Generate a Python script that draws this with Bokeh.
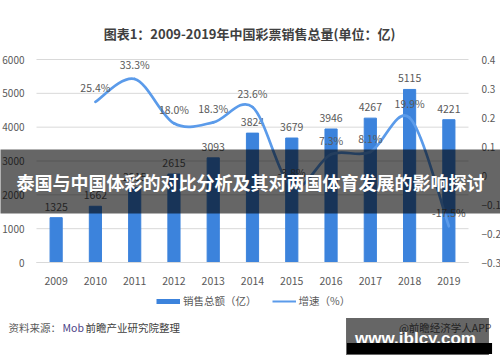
import numpy as np
from bokeh.plotting import figure
from bokeh.models import Range1d, LinearAxis, FixedTicker, Label, Legend, LegendItem
from bokeh.embed import file_html
from bokeh.resources import INLINE
from bokeh.core.properties import value

# ---------------- data ----------------
years = [2009, 2010, 2011, 2012, 2013, 2014, 2015, 2016, 2017, 2018, 2019]
sales = [1325, 1662, 2215, 2615, 3093, 3824, 3679, 3946, 4267, 5115, 4221]
growth_years = [2010, 2011, 2012, 2013, 2014, 2015, 2016, 2017, 2018, 2019]
growth = [25.4, 33.3, 18.0, 18.3, 23.6, -3.8, 7.3, 8.1, 19.9, -17.5]
left_ticks = [0, 1000, 2000, 3000, 4000, 5000, 6000]
right_ticks = [-0.3, -0.2, -0.1, 0, 0.1, 0.2, 0.3, 0.4]
title_text = "图表1：2009-2019年中国彩票销售总量(单位：亿)"
band_text = "泰国与中国体彩的对比分析及其对两国体育发展的影响探讨"
legend_labels = ["销售总额（亿）", "增速（%）"]
source_parts = ["资料来源：", "Mob", "前瞻产业研究院整理"]
credit_text = "@前瞻经济学人APP"
wm_text = "www.jblcy.com"

# ---------------- style ----------------
BAR = "#3c83dc"
LINE = "#5b9bea"
GRID = "#d9d9d9"
TXT = "#595959"
CJK = "Noto Sans CJK SC"
W, H = 500, 362

# chart area in page px: x 36..468, y 59..262
def px_x(px):
    return 2008.5 + (px - 36) * 11.0 / 432.0

def py_y(py):
    return (262 - py) * 6000.0 / 203.0

def py_p(py):
    return 0.4 - (py - 59) * 0.7 / 203.0

p = figure(width=W, height=H, output_backend="svg", toolbar_location=None,
           x_range=Range1d(px_x(0), px_x(W)),
           y_range=Range1d(py_y(H), py_y(0)),
           min_border=0, min_border_left=0, min_border_right=0,
           min_border_top=0, min_border_bottom=0)
p.extra_y_ranges = {"pct": Range1d(py_p(H), py_p(0))}
p.outline_line_color = None
p.background_fill_color = "white"
p.border_fill_color = "white"
p.xgrid.visible = False
p.ygrid.visible = False

def style_axis(ax, standoff, size="10.5px"):
    ax.axis_line_color = None
    ax.major_tick_line_color = None
    ax.minor_tick_line_color = None
    ax.major_label_standoff = standoff
    ax.major_label_text_font = CJK
    ax.major_label_text_font_size = size
    ax.major_label_text_color = TXT

# axes pinned to the chart area (no side-panel space taken)
ya = p.yaxis[0]
ya.ticker = FixedTicker(ticks=left_ticks)
ya.fixed_location = 2008.5
style_axis(ya, 6, "10px")

xa = p.xaxis[0]
xa.ticker = FixedTicker(ticks=years)
xa.fixed_location = 0
xa.bounds = (2008.5, 2019.5)
style_axis(xa, 8)
xa.axis_line_color = GRID

ra = LinearAxis(y_range_name="pct", ticker=FixedTicker(ticks=right_ticks))
ra.fixed_location = 2019.5
style_axis(ra, 7, "10px")
ra.major_label_overrides = {0: "0"}
p.add_layout(ra, "right")

# horizontal grid lines at the left-axis ticks, limited to the chart area
p.segment(x0=[2008.5] * len(left_ticks), x1=[2019.5] * len(left_ticks),
          y0=left_ticks, y1=left_ticks, line_color=GRID, line_width=1)

# bars + labels
p.vbar(x=years, top=sales, width=0.31, color=BAR)
p.text(x=years, y=sales, text=[str(v) for v in sales], y_offset=-11,
       text_align="center", text_baseline="middle", text_color=TXT,
       text_font=value(CJK), text_font_size="10.5px")

# smoothed growth line (Catmull-Rom style bezier through the data points)
gy = [g / 100.0 for g in growth]
n = len(growth_years)
def pt(i):
    i = max(0, min(n - 1, i))
    return growth_years[i], gy[i]
bx0, by0, bx1, by1, c0x, c0y, c1x, c1y = [], [], [], [], [], [], [], []
for i in range(n - 1):
    xa_, ya_ = pt(i - 1)
    xb_, yb_ = pt(i)
    xc_, yc_ = pt(i + 1)
    xd_, yd_ = pt(i + 2)
    bx0.append(xb_); by0.append(yb_); bx1.append(xc_); by1.append(yc_)
    c0x.append(xb_ + (xc_ - xa_) / 6.0); c0y.append(yb_ + (yc_ - ya_) / 6.0)
    c1x.append(xc_ - (xd_ - xb_) / 6.0); c1y.append(yc_ - (yd_ - yb_) / 6.0)
p.bezier(x0=bx0, y0=by0, x1=bx1, y1=by1, cx0=c0x, cy0=c0y, cx1=c1x, cy1=c1y,
         y_range_name="pct", line_color=LINE, line_width=2.7, line_cap="round")
p.text(x=growth_years, y=gy, text=[f"{g:.1f}%" for g in growth], y_range_name="pct",
       y_offset=-14, text_align="center", text_baseline="middle", text_color=TXT,
       text_font=value(CJK), text_font_size="10.5px")

# legend with proxy renderers (one invisible NaN point each)
r_bar = p.line(x=np.array([np.nan]), y=np.array([np.nan]), line_color=BAR, line_width=5)
r_line = p.line(x=np.array([np.nan]), y=np.array([np.nan]), line_color=LINE, line_width=2)
legend = Legend(items=[LegendItem(label=legend_labels[0], renderers=[r_bar]),
                       LegendItem(label=legend_labels[1], renderers=[r_line])],
                orientation="horizontal", location=(156, H - 308),
                glyph_width=24, glyph_height=14, label_height=14, label_standoff=3,
                spacing=15, padding=0, margin=0, border_line_alpha=0,
                background_fill_alpha=0, label_text_font=CJK,
                label_text_font_size="10.5px", label_text_color=TXT)
p.add_layout(legend, "center")

def lab(px, py, text, **kw):
    p.add_layout(Label(x=px_x(px), y=py_y(py), text=text, text_baseline="middle", **kw))

# title
lab(249, 33, title_text, text_align="center", text_font=CJK, text_font_size="13px",
    text_font_style="bold", text_color="#404040")

# footnote
lab(8, 327, source_parts[0], text_align="left", text_font=CJK, text_font_size="10.5px",
    text_color=TXT)
lab(62, 327, source_parts[1], text_align="left", text_font=CJK, text_font_size="10.5px",
    text_color="#4b3f86")
lab(85, 327, source_parts[2], text_align="left", text_font=CJK, text_font_size="10.5px",
    text_color="#404040")
lab(491, 327, credit_text, text_align="right", text_font=CJK, text_font_size="10.5px",
    text_color=TXT)

# dark overlay band with white headline
lab(250, 181, band_text, text_align="center", text_font=CJK, text_font_size="18px",
    text_font_style="bold", text_color="white",
    background_fill_color="black", background_fill_alpha=0.6, padding=19)

# watermark box
lab(417, 336, wm_text, text_align="center", text_font="Liberation Sans",
    text_font_size="17px", text_font_style="bold", text_color="white",
    background_fill_color="black", background_fill_alpha=0.6,
    padding=dict(left=9, right=13, top=11, bottom=7))
lab(419, 348, " ", text_align="center", text_font="Liberation Sans", text_font_size="4px",
    text_color="black", background_fill_color="black", background_fill_alpha=1.0,
    padding=dict(left=72, right=72, top=3, bottom=3))

open("out.html", "w").write(file_html(p, INLINE))
